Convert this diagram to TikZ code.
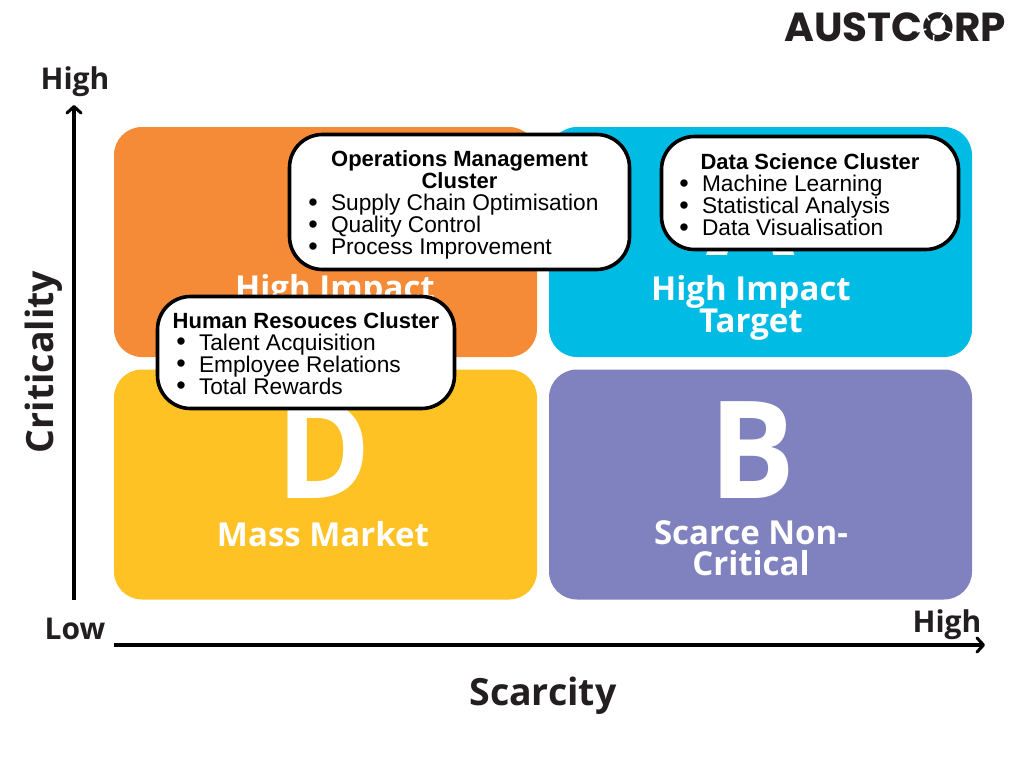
\documentclass[tikz,border=0pt]{standalone}
\usepackage{fontspec}
\setmainfont{Open Sans}
\newfontfamily\boxfont{Liberation Sans}
\newfontfamily\logofont{Poppins}
\definecolor{qorange}{HTML}{F68B37}
\definecolor{qblue}{HTML}{00BCE4}
\definecolor{qyellow}{HTML}{FFC225}
\definecolor{qpurple}{HTML}{7F82BF}
\definecolor{ink}{HTML}{231F20}
\newcommand{\bul}[3]{\makebox[#1][l]{\hspace{#2}\makebox[0pt]{\raisebox{-0.5pt}{\fontsize{27}{22}\selectfont\textbullet}}\hspace{18pt}\fontsize{22.7}{22}\selectfont #3}}
\newcommand{\headline}[1]{{\bfseries\fontsize{22}{22}\selectfont #1}}
\newcommand{\topgap}[1]{\rule{0pt}{#1pt}}
\newcommand{\tallglyph}[1]{\scalebox{1}[1.06]{#1}}
\usetikzlibrary{arrows.meta}
\tikzset{
  x=1pt,y=-1pt,
  quad/.style={rounded corners=28pt,minimum width=423pt,minimum height=230pt,inner sep=0pt,fill=#1},
  cluster/.style={draw=black,fill=white,line width=3.6pt,rounded corners=33pt,inner sep=0pt,align=center,
    font=\boxfont\fontsize{22}{22}\selectfont,text=black},
  biglabel/.style={text=white,font=\bfseries\fontsize{33}{31}\selectfont,align=center,inner sep=0pt},
  bigletter/.style={text=white,font=\bfseries\fontsize{128}{128}\selectfont,inner sep=0pt,anchor=base},
  axislabel/.style={text=ink,font=\bfseries\fontsize{30}{30}\selectfont,inner sep=0pt},
  axistitle/.style={text=ink,font=\bfseries\fontsize{37.5}{38}\selectfont,inner sep=0pt},
  axisline/.style={draw=black,line width=3.4pt,-{Straight Barb[length=6.5pt,width=14pt,line width=3pt,round]}},
}
\begin{document}
\begin{tikzpicture}
\useasboundingbox (0,0) rectangle (1024,768);
\fill[white] (0,0) rectangle (1024,768);
% quadrants
\node[quad=qorange] (qtl) at (325.5,242) {};
\node[quad=qblue] (qtr) at (760.5,242) {};
\node[quad=qyellow] (qbl) at (325.5,484.5) {};
\node[quad=qpurple] (qbr) at (760.5,484.5) {};
% letters and labels
\node[bigletter] (la) at (751,255) {\tallglyph{A}};
\node[bigletter] (ld) at (324,498) {\tallglyph{D}};
\node[bigletter] (lb) at (752,498) {\tallglyph{B}};
\node[biglabel] (ltl) at (335,291) {High Impact};
\node[biglabel] (ltr) at (751,308) {High Impact\\Target};
\node[biglabel] (lbl) at (323,534) {Mass Market};
\node[biglabel] (lbr) at (751,548) {Scarce Non-\\Critical};
% clusters
\node[cluster,minimum width=340pt,minimum height=135pt] (ops) at (459.5,202) {%
  \topgap{22}\headline{Operations Management}\\\headline{Cluster}\\
  \bul{335pt}{21pt}{Supply Chain Optimisation}\\
  \bul{335pt}{21pt}{Quality Control}\\
  \bul{335pt}{21pt}{Process Improvement}};
\node[cluster,minimum width=297pt,minimum height=112pt] (hr) at (306,352.5) {%
  \topgap{18}\headline{Human Resouces Cluster}\\
  \bul{292pt}{21pt}{Talent Acquisition}\\
  \bul{292pt}{21pt}{Employee Relations}\\
  \bul{292pt}{21pt}{Total Rewards}};
\node[cluster,minimum width=297pt,minimum height=113pt] (ds) at (810,193) {%
  \topgap{20}\headline{Data Science Cluster}\\
  \bul{292pt}{20pt}{Machine Learning}\\
  \bul{292pt}{20pt}{Statistical Analysis}\\
  \bul{292pt}{20pt}{Data Visualisation}};
% axes
\coordinate (yfrom) at (74,600);
\coordinate (yto) at (74,105);
\coordinate (xfrom) at (114,645);
\coordinate (xto) at (985,645);
\draw[axisline] (yfrom) -- (yto);
\draw[axisline] (xfrom) -- (xto);
\node[axislabel] (yhigh) at (75,82) {High};
\node[axislabel] (low) at (75,629) {Low};
\node[axislabel] (xhigh) at (947,625) {High};
\node[axistitle] (xtitle) at (543,696) {Scarcity};
\node[axistitle,rotate=90] (ytitle) at (44,362) {Criticality};
% logo
\node[inner sep=0pt,text=ink,font=\logofont\bfseries\fontsize{40.5}{42}\selectfont] (logo) at (895,27) {AUSTCORP};
\foreach \a in {20,92,164,236,308}
  \draw[white,line width=1.6pt] ([shift={(\a:8)}]934,27) -- ([shift={(\a:18)}]934,27);
\end{tikzpicture}
\end{document}
